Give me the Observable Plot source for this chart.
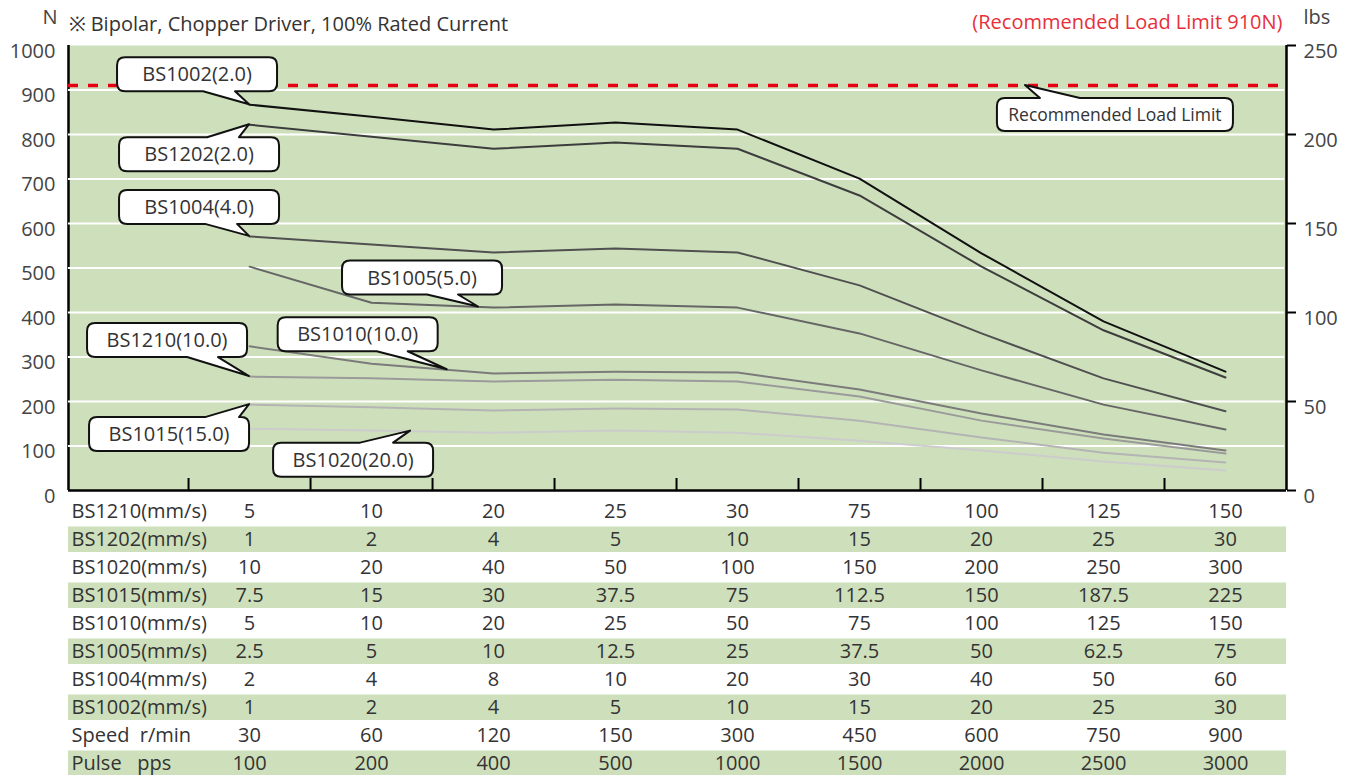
<!DOCTYPE html>
<html><head><meta charset="utf-8">
<script src="https://cdn.jsdelivr.net/npm/d3@7"></script>
<script src="https://cdn.jsdelivr.net/npm/@observablehq/plot@0.6"></script>
<style>
html,body{margin:0;padding:0;background:#fff;overflow:hidden;}
#chart svg{display:block;}
svg text{white-space:pre;}
</style></head><body><div id="chart"></div>
<script>
// ---------- data ----------
const colIndex = [0, 1, 2, 3, 4, 5, 6, 7, 8];
const seriesNames = ["BS1002", "BS1202", "BS1004", "BS1005", "BS1010", "BS1210", "BS1015", "BS1020"];
const seriesColors = ["#111111", "#3d3d3d", "#505050", "#666666", "#7b7b7b", "#9a9a9a", "#b4b4b4", "#cccccc"];
const forceBS1002 = [867, 840, 811, 827, 811, 701, 533, 380, 267];
const forceBS1202 = [822, 795, 768, 782, 768, 663, 503, 360, 254];
const forceBS1004 = [571, 553, 535, 544, 535, 461, 353, 252, 178];
const forceBS1005 = [503, 422, 411, 418, 411, 353, 270, 193, 137];
const forceBS1010 = [324, 285, 263, 267, 265, 227, 173, 126, 90];
const forceBS1210 = [256, 252, 245, 249, 245, 211, 157, 117, 83];
const forceBS1015 = [193, 187, 180, 184, 182, 157, 119, 85, 63];
const forceBS1020 = [139, 135, 130, 135, 130, 112, 90, 65, 45];
const loadLimit = 910;

const yTicksN = [0, 100, 200, 300, 400, 500, 600, 700, 800, 900, 1000];
const gridN = [100, 200, 300, 400, 500, 600, 700, 800, 900];
const yTicksLbs = [0, 50, 100, 150, 200, 250];
const nPerLbs = 4;

const rowLabels = ["BS1210(mm/s)", "BS1202(mm/s)", "BS1020(mm/s)", "BS1015(mm/s)", "BS1010(mm/s)",
  "BS1005(mm/s)", "BS1004(mm/s)", "BS1002(mm/s)", "Speed  r/min", "Pulse   pps"];
const rowBS1210 = ["5", "10", "20", "25", "30", "75", "100", "125", "150"];
const rowBS1202 = ["1", "2", "4", "5", "10", "15", "20", "25", "30"];
const rowBS1020 = ["10", "20", "40", "50", "100", "150", "200", "250", "300"];
const rowBS1015 = ["7.5", "15", "30", "37.5", "75", "112.5", "150", "187.5", "225"];
const rowBS1010 = ["5", "10", "20", "25", "50", "75", "100", "125", "150"];
const rowBS1005 = ["2.5", "5", "10", "12.5", "25", "37.5", "50", "62.5", "75"];
const rowBS1004 = ["2", "4", "8", "10", "20", "30", "40", "50", "60"];
const rowBS1002 = ["1", "2", "4", "5", "10", "15", "20", "25", "30"];
const rowSpeed = ["30", "60", "120", "150", "300", "450", "600", "750", "900"];
const rowPulse = ["100", "200", "400", "500", "1000", "1500", "2000", "2500", "3000"];

const titleText = "※ Bipolar, Chopper Driver, 100% Rated Current";
const limitText = "(Recommended Load Limit 910N)";

// callout annotations (anchor on a series at column position `at`, box offset in px)
const callouts = [
  {label: "BS1002(2.0)", series: "BS1002", at: 0, dx: -52, dy: -30, w: 160, h: 34, side: "bottom", a: 6, b: 38, fs: 20},
  {label: "BS1202(2.0)", series: "BS1202", at: 0, dx: -50, dy: 30, w: 160, h: 34, side: "top", a: 8, b: 40, fs: 20},
  {label: "BS1004(4.0)", series: "BS1004", at: 0, dx: -50, dy: -29, w: 160, h: 34, side: "bottom", a: 6, b: 38, fs: 20},
  {label: "BS1005(5.0)", series: "BS1005", at: 1.877, dx: -56, dy: -29, w: 160, h: 34, side: "bottom", a: 5, b: 36, fs: 20},
  {label: "BS1010(10.0)", series: "BS1010", at: 1.62, dx: -89, dy: -35, w: 160, h: 34, side: "bottom", a: 19, b: 50, fs: 20},
  {label: "BS1210(10.0)", series: "BS1210", at: 0, dx: -82, dy: -36, w: 160, h: 34, side: "bottom", a: 20, b: 51, fs: 20},
  {label: "BS1015(15.0)", series: "BS1015", at: 0, dx: -80, dy: 30, w: 160, h: 34, side: "top", a: 36, b: 70, fs: 20},
  {label: "BS1020(20.0)", series: "BS1020", at: 1.32, dx: -57, dy: 29, w: 160, h: 34, side: "top", a: 7, b: 40, fs: 20},
  {label: "Recommended Load Limit", series: null, at: 6.36, dx: 90, dy: 29.5, w: 236, h: 33, side: "top", a: -75, b: -35, fs: 17.5}
];

// ---------- build tables ----------
const forces = {BS1002: forceBS1002, BS1202: forceBS1202, BS1004: forceBS1004, BS1005: forceBS1005,
  BS1010: forceBS1010, BS1210: forceBS1210, BS1015: forceBS1015, BS1020: forceBS1020};
const lineData = seriesNames.flatMap(s => forces[s].map((v, i) => ({series: s, k: colIndex[i], v})));
const rowsValues = [rowBS1210, rowBS1202, rowBS1020, rowBS1015, rowBS1010, rowBS1005, rowBS1004, rowBS1002, rowSpeed, rowPulse];
const cells = rowsValues.flatMap((r, ri) => r.map((t, i) => ({row: rowLabels[ri], k: colIndex[i], t})));
const shadedRows = rowLabels.filter((d, i) => i % 2 === 1);

const green = "#cee0bb";
const font = "'Open Sans', sans-serif";
const fs = 20;
const labelCols = 0.984;
const xDomain = [colIndex[0] - 0.5 - labelCols, colIndex[colIndex.length - 1] + 0.5];
const colEdges = colIndex.map(k => k - 0.5);

function valueAt(series, at) {
  if (!series) return loadLimit;
  const arr = forces[series];
  const i0 = Math.floor(at), i1 = Math.min(arr.length - 1, i0 + 1), f = at - i0;
  return arr[i0] * (1 - f) + arr[i1] * f;
}

function calloutMark(...args) {
  const s = args.find(a => a && typeof a.x === "function" && typeof a.y === "function");
  const g = d3.create("svg:g");
  for (const c of callouts) {
    const tx = s.x(c.at), ty = s.y(valueAt(c.series, c.at));
    const cx = tx + c.dx, cy = ty + c.dy;
    const x0 = cx - c.w / 2, x1 = cx + c.w / 2, y0 = cy - c.h / 2, y1 = cy + c.h / 2, r = 8;
    let p = `M${x0 + r},${y0}`;
    if (c.side === "top") p += `L${cx + c.a},${y0}L${tx},${ty}L${cx + c.b},${y0}`;
    p += `L${x1 - r},${y0}Q${x1},${y0} ${x1},${y0 + r}L${x1},${y1 - r}Q${x1},${y1} ${x1 - r},${y1}`;
    if (c.side === "bottom") p += `L${cx + c.b},${y1}L${tx},${ty}L${cx + c.a},${y1}`;
    p += `L${x0 + r},${y1}Q${x0},${y1} ${x0},${y1 - r}L${x0},${y0 + r}Q${x0},${y0} ${x0 + r},${y0}Z`;
    g.append("path").attr("d", p).attr("fill", "white").attr("stroke", "#111").attr("stroke-width", 2).attr("stroke-linejoin", "round");
    g.append("text").attr("x", cx).attr("y", cy).attr("dy", "0.36em").attr("text-anchor", "middle")
      .attr("fill", "#333").attr("font-size", c.fs).attr("font-family", font).text(c.label);
  }
  return g.node();
}

const chart = Plot.plot({
  width: 1354, height: 494,
  marginTop: 45, marginBottom: 4, marginLeft: 68, marginRight: 68,
  x: {domain: xDomain, axis: null},
  y: {domain: [0, 1000], axis: null},
  color: {domain: seriesNames, range: seriesColors},
  style: {fontFamily: font, fontSize: fs + "px", color: "#444", background: "transparent", overflow: "visible"},
  marks: [
    Plot.frame({fill: green, stroke: null}),
    Plot.ruleX([xDomain[0]], {stroke: "#000", strokeWidth: 2.5}),
    Plot.ruleY(gridN, {stroke: "white", strokeWidth: 2, insetRight: 2}),
    Plot.ruleY([loadLimit], {stroke: "#e60012", strokeWidth: 3.5, strokeDasharray: "10,10"}),
    Plot.line(lineData, {x: "k", y: "v", z: "series", stroke: "series", strokeWidth: 2}),
    calloutMark,
    Plot.ruleY([0], {stroke: "#000", strokeWidth: 2.5}),
    Plot.ruleX([xDomain[1]], {stroke: "#000", strokeWidth: 2.5}),
    Plot.ruleX(colEdges, {x: d => d, y1: 0, y2: 27, stroke: "#000", strokeWidth: 2}),
    Plot.axisY({ticks: yTicksN, tickFormat: d => String(d), tickSize: 0, tickPadding: 13, label: null,
      fill: "#444", fontSize: fs, dy: 6}),
    Plot.axisY({anchor: "right", ticks: yTicksLbs.map(v => v * nPerLbs), tickFormat: () => "",
      tickSize: 9, label: null, stroke: "#000", strokeWidth: 2}),
    Plot.axisY({anchor: "right", ticks: yTicksLbs.map(v => v * nPerLbs), tickFormat: d => String(d / nPerLbs),
      tickSize: 0, tickPadding: 17, label: null, fill: "#444", fontSize: fs, dy: 6}),
    Plot.text(["N"], {frameAnchor: "top-left", lineAnchor: "middle", dx: -26, dy: -28, fill: "#444", fontSize: fs}),
    Plot.text([titleText], {frameAnchor: "top-left", lineAnchor: "middle", textAnchor: "start", dx: 0, dy: -21, fill: "#333", fontSize: fs}),
    Plot.text([limitText], {frameAnchor: "top-right", lineAnchor: "middle", textAnchor: "end", dx: -4, dy: -23, fill: "#e8303a", fontSize: fs}),
    Plot.text(["lbs"], {frameAnchor: "top-right", lineAnchor: "middle", textAnchor: "start", dx: 17, dy: -28, fill: "#444", fontSize: fs})
  ]
});

const table = Plot.plot({
  width: 1354, height: 286,
  marginTop: 0, marginBottom: 0, marginLeft: 68, marginRight: 68,
  x: {domain: xDomain, axis: null},
  y: {type: "band", domain: rowLabels, padding: 0, axis: null},
  style: {fontFamily: font, fontSize: fs + "px", color: "#333", background: "transparent"},
  marks: [
    Plot.barX(shadedRows, {x1: xDomain[0], x2: xDomain[1], y: d => d, fill: green, insetTop: 1.5, insetBottom: 1}),
    Plot.text(rowLabels, {x: xDomain[0], y: d => d, text: d => d, textAnchor: "start", dx: 3, fill: "#333", fontSize: fs}),
    Plot.text(cells, {x: "k", y: "row", text: "t", fill: "#333", fontSize: fs})
  ]
});

const root = document.getElementById("chart");
root.appendChild(chart);
root.appendChild(table);
</script></body></html>
